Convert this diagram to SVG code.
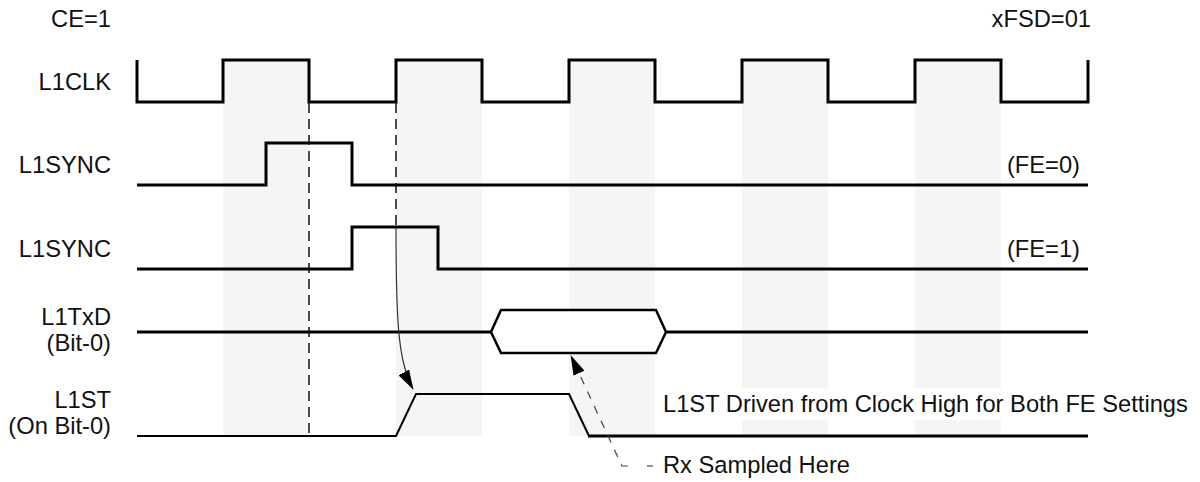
<svg xmlns="http://www.w3.org/2000/svg" width="1200" height="482" viewBox="0 0 1200 482">
<style>
text{font-family:"Liberation Sans",Arial,Helvetica,sans-serif;font-size:23.7px;fill:#111}
.lbl{text-anchor:end}
.sig{fill:none;stroke:#000;stroke-width:3;stroke-linejoin:miter;stroke-linecap:butt}
.thin{fill:none;stroke:#000;stroke-width:2;stroke-linejoin:miter}
.shade{fill:#f5f5f5}
.vdash{fill:none;stroke:#111;stroke-width:1.5;stroke-dasharray:10,6}
.conn{fill:none;stroke:#333;stroke-width:1.2}
.cdash{fill:none;stroke:#444;stroke-width:1.2;stroke-dasharray:8,8}
</style>
<defs>
<marker id="ah" viewBox="0 0 20 12" refX="19" refY="6" markerWidth="20" markerHeight="12" markerUnits="userSpaceOnUse" orient="auto">
<path d="M0,0 L20,6 L0,12 z" fill="#000" stroke="none"/>
</marker>
</defs>
<rect width="1200" height="482" fill="#fff"/>
<g id="shading">
<rect class="shade" x="223" y="60" width="86" height="376"/>
<rect class="shade" x="396" y="60" width="86" height="376"/>
<rect class="shade" x="569" y="60" width="86" height="376"/>
<rect class="shade" x="742" y="60" width="86" height="376"/>
<rect class="shade" x="915" y="60" width="86" height="376"/>
</g>
<g id="header">
<text class="lbl" x="111" y="27">CE=1</text>
<text class="lbl" x="1091" y="27">xFSD=01</text>
</g>
<g id="l1clk">
<text class="lbl" x="111" y="90">L1CLK</text>
<path class="sig" d="M137,60 V102 H223 V60 H309 V102 H396 V60 H482 V102 H569 V60 H655 V102 H742 V60 H828 V102 H915 V60 H1001 V102 H1088 V60"/>
</g>
<g id="l1sync-fe0">
<text class="lbl" x="111" y="173">L1SYNC</text>
<path class="sig" d="M137,185 H266 V143 H352 V185 H1088"/>
<text class="lbl" x="1080" y="173">(FE=0)</text>
</g>
<g id="l1sync-fe1">
<text class="lbl" x="111" y="257">L1SYNC</text>
<path class="sig" d="M137,269 H352 V227 H438 V269 H1088"/>
<text class="lbl" x="1080" y="257">(FE=1)</text>
</g>
<g id="l1txd">
<text class="lbl" x="111" y="325">L1TxD</text>
<text class="lbl" x="111" y="351">(Bit-0)</text>
<path class="sig" d="M137,332 H491 M666,332 H1088"/>
<path d="M491,332 L501,310 H656 L666,332 L656,353 H501 Z" fill="#fff" stroke="#000" stroke-width="2.5" stroke-linejoin="miter"/>
</g>
<g id="l1st">
<text class="lbl" x="111" y="408">L1ST</text>
<text class="lbl" x="111" y="434">(On Bit-0)</text>
<path class="thin" d="M137,436 H396 L416,394 H569 L589,436"/>
<path class="sig" d="M588,436 H1088"/>
</g>
<g id="note-driven">
<rect x="659" y="388" width="534" height="32" fill="#fff"/>
<text x="663" y="412">L1ST Driven from Clock High for Both FE Settings</text>
</g>
<g id="note-rx">
<text x="663" y="473">Rx Sampled Here</text>
</g>
<g id="connectors">
<line class="vdash" x1="309" y1="103" x2="309" y2="436"/>
<line class="vdash" x1="396" y1="103" x2="396" y2="228"/>
<path class="conn" d="M396,228 C396,320 398,362 413,389" marker-end="url(#ah)"/>
<line x1="653" y1="466" x2="647" y2="466" stroke="#444" stroke-width="1.2"/>
<path class="cdash" d="M628,466 H622 L571,356" marker-end="url(#ah)"/>
</g>
</svg>
